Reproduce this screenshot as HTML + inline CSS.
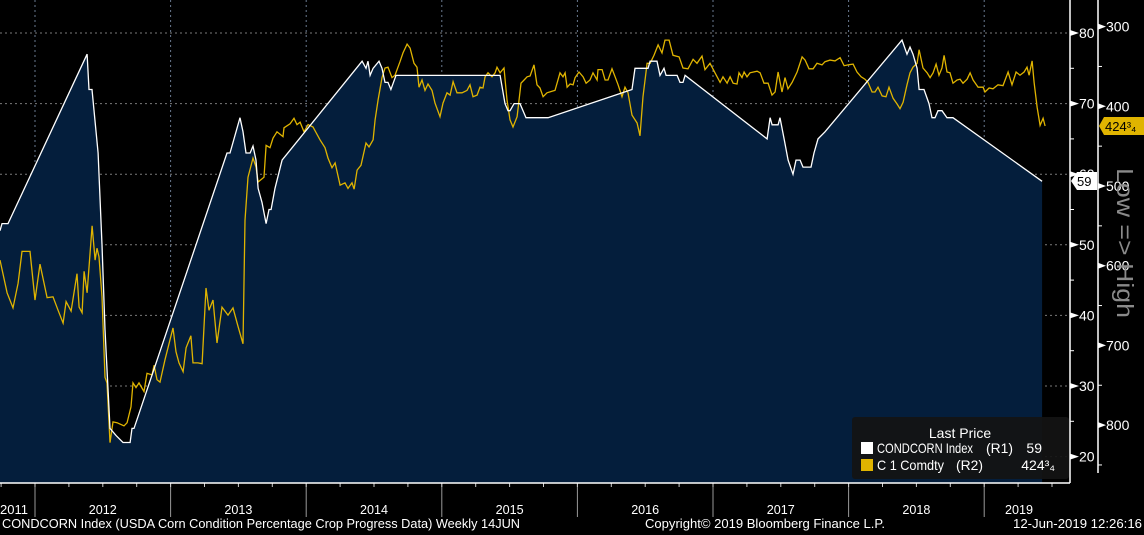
<!DOCTYPE html>
<html><head><meta charset="utf-8"><style>
html,body{margin:0;padding:0;background:#000;width:1144px;height:535px;overflow:hidden}
svg{display:block;font-family:"Liberation Sans Narrow","Liberation Sans",sans-serif}
</style></head><body>
<svg id="chart" width="1144" height="535" viewBox="0 0 1144 535">
<rect x="0" y="0" width="1144" height="535" fill="#000"/>
<g id="grid"></g>
<path id="area" fill="#041e3c"/>
<polyline id="cornLine" fill="none" stroke="#e0b400" stroke-width="1.3"/>
<polyline id="condLine" fill="none" stroke="#fff" stroke-width="1.3"/>
<g id="axes"></g>
<g>
<rect x="852" y="417" width="217" height="62" rx="3" fill="#141414" fill-opacity="0.92"/>
<text x="960" y="438" fill="#fff" font-size="14" text-anchor="middle">Last Price</text>
<rect x="861" y="442" width="12" height="12" fill="#fff"/>
<text x="877" y="453" fill="#fff" font-size="14" textLength="96" lengthAdjust="spacingAndGlyphs">CONDCORN Index</text>
<text x="986" y="453" fill="#fff" font-size="14" textLength="27" lengthAdjust="spacingAndGlyphs">(R1)</text>
<text x="1042" y="453" fill="#fff" font-size="14" text-anchor="end">59</text>
<rect x="861" y="459" width="12" height="12" fill="#e0b400"/>
<text x="877" y="470" fill="#fff" font-size="14" textLength="67" lengthAdjust="spacingAndGlyphs">C 1 Comdty</text>
<text x="956" y="470" fill="#fff" font-size="14" textLength="27" lengthAdjust="spacingAndGlyphs">(R2)</text>
<text x="1055" y="470" fill="#fff" font-size="14" text-anchor="end">424³₄</text>
</g>
<g>
<path d="M1071 181 L1077 172 L1097 172 L1097 190 L1077 190 Z" fill="#fff"/>
<text x="1077" y="186" fill="#000" font-size="13">59</text>
<path d="M1099 126 L1104 117 L1144 117 L1144 135 L1104 135 Z" fill="#e0b400"/>
<text x="1105" y="131" fill="#000" font-size="13">424³₄</text>
</g>
<text transform="translate(1117,168) rotate(90)" fill="#8a8a8a" font-size="23" textLength="150" lengthAdjust="spacingAndGlyphs">Low =&gt; High</text>
<text x="2" y="528" fill="#fff" font-size="13" textLength="518" lengthAdjust="spacingAndGlyphs">CONDCORN Index (USDA Corn Condition Percentage Crop Progress Data)  Weekly 14JUN</text>
<text x="645" y="528" fill="#fff" font-size="13" textLength="240" lengthAdjust="spacingAndGlyphs">Copyright© 2019 Bloomberg Finance L.P.</text>
<text x="1013" y="528" fill="#fff" font-size="13" textLength="129" lengthAdjust="spacingAndGlyphs">12-Jun-2019 12:26:16</text>
</svg>
<script>
const condDates=[2011.742,2011.757,2011.801,2012.384,2012.398,2012.420,2012.465,2012.494,2012.516,2012.553,2012.597,2012.649,2012.701,2012.715,2012.730,2013.416,2013.438,2013.512,2013.534,2013.556,2013.586,2013.608,2013.630,2013.645,2013.674,2013.704,2013.726,2013.741,2013.770,2013.822,2014.412,2014.441,2014.456,2014.471,2014.493,2014.537,2014.559,2014.581,2014.603,2014.625,2014.662,2015.430,2015.466,2015.488,2015.503,2015.533,2015.577,2015.621,2015.784,2016.403,2016.425,2016.521,2016.536,2016.587,2016.609,2016.639,2016.654,2016.735,2016.757,2016.779,2016.794,2017.399,2017.421,2017.436,2017.480,2017.494,2017.524,2017.554,2017.590,2017.612,2017.642,2017.664,2017.723,2017.745,2017.774,2017.826,2018.394,2018.431,2018.453,2018.475,2018.505,2018.520,2018.556,2018.593,2018.615,2018.637,2018.659,2018.689,2018.726,2018.770,2019.427];
const condValues=[52,53,53,77,72,72,63,50,38,24,23,22,22,24,24,63,63,68,66,63,63,64,62,58,56,53,55,55,58,62,76,75,76,74,75,76,75,73,73,72,74,74,70,69,69,70,70,68,68,72,75,75,76,76,74,75,74,74,73,73,74,65,68,67,67,68,65,62,60,62,62,61,61,63,65,66,79,77,78,77,75,72,72,70,68,68,69,69,68,68,59];
const cornDates=[2011.742,2011.794,2011.838,2011.875,2011.904,2011.963,2012.000,2012.037,2012.089,2012.133,2012.170,2012.207,2012.229,2012.266,2012.310,2012.325,2012.347,2012.362,2012.384,2012.421,2012.443,2012.457,2012.472,2012.494,2012.516,2012.531,2012.553,2012.575,2012.605,2012.656,2012.679,2012.708,2012.723,2012.745,2012.767,2012.804,2012.826,2012.863,2012.878,2012.900,2012.922,2012.959,2013.018,2013.040,2013.062,2013.092,2013.114,2013.150,2013.165,2013.202,2013.232,2013.261,2013.283,2013.313,2013.342,2013.379,2013.423,2013.460,2013.497,2013.534,2013.549,2013.571,2013.608,2013.630,2013.645,2013.689,2013.704,2013.733,2013.755,2013.785,2013.829,2013.836,2013.881,2013.910,2013.932,2013.955,2013.984,2014.014,2014.050,2014.102,2014.139,2014.161,2014.190,2014.213,2014.250,2014.286,2014.308,2014.338,2014.353,2014.375,2014.404,2014.441,2014.463,2014.493,2014.508,2014.530,2014.559,2014.581,2014.603,2014.633,2014.655,2014.692,2014.714,2014.744,2014.766,2014.795,2014.817,2014.832,2014.854,2014.876,2014.898,2014.928,2014.950,2014.987,2015.009,2015.038,2015.061,2015.083,2015.112,2015.149,2015.186,2015.208,2015.230,2015.260,2015.282,2015.304,2015.319,2015.341,2015.370,2015.393,2015.407,2015.430,2015.459,2015.481,2015.503,2015.525,2015.555,2015.584,2015.607,2015.629,2015.651,2015.680,2015.702,2015.724,2015.747,2015.776,2015.813,2015.835,2015.872,2015.894,2015.909,2015.924,2015.946,2015.968,2015.983,2016.012,2016.042,2016.064,2016.093,2016.115,2016.145,2016.152,2016.182,2016.204,2016.226,2016.255,2016.278,2016.300,2016.329,2016.351,2016.373,2016.403,2016.440,2016.462,2016.484,2016.514,2016.536,2016.565,2016.595,2016.624,2016.646,2016.676,2016.705,2016.750,2016.779,2016.816,2016.853,2016.882,2016.919,2016.941,2016.978,2017.015,2017.052,2017.074,2017.104,2017.126,2017.148,2017.177,2017.192,2017.214,2017.229,2017.251,2017.273,2017.325,2017.347,2017.376,2017.406,2017.435,2017.458,2017.480,2017.509,2017.531,2017.553,2017.583,2017.620,2017.657,2017.679,2017.708,2017.738,2017.767,2017.804,2017.826,2017.863,2017.900,2017.937,2017.967,2017.996,2018.033,2018.062,2018.092,2018.121,2018.143,2018.173,2018.195,2018.217,2018.247,2018.276,2018.298,2018.328,2018.357,2018.379,2018.402,2018.431,2018.453,2018.475,2018.505,2018.520,2018.549,2018.579,2018.601,2018.623,2018.645,2018.667,2018.689,2018.704,2018.726,2018.748,2018.770,2018.800,2018.822,2018.844,2018.874,2018.896,2018.918,2018.955,2018.992,2019.006,2019.036,2019.065,2019.102,2019.139,2019.176,2019.205,2019.235,2019.264,2019.294,2019.316,2019.331,2019.353,2019.368,2019.390,2019.412,2019.434,2019.449];
const cornValues=[593,634,653,622,582,582,643,598,640,639,656,672,645,657,610,652,659,607,634,550,593,578,589,639,740,747,822,796,797,801,797,777,747,753,747,758,735,737,725,743,746,718,678,708,722,733,703,688,722,722,723,628,656,643,697,652,662,653,676,698,543,489,465,476,495,489,449,452,440,432,438,427,422,415,423,420,432,423,426,442,452,465,477,471,499,496,503,496,504,480,474,446,451,442,417,392,364,352,351,364,361,344,333,322,327,346,351,376,367,380,372,380,396,413,396,383,386,369,383,383,380,373,388,386,376,377,363,358,363,358,351,358,352,392,417,426,413,371,367,363,362,348,373,377,388,383,381,380,358,363,358,376,372,373,364,357,363,371,367,358,367,354,354,367,367,353,363,373,388,376,383,411,421,437,388,346,346,336,323,333,317,317,336,338,352,353,341,346,337,354,346,358,370,363,371,363,371,372,358,364,357,363,358,356,358,371,371,386,382,357,382,364,378,370,357,338,342,353,353,346,348,344,342,343,339,349,348,347,357,363,366,370,382,382,376,387,388,376,390,397,403,395,373,358,351,346,329,352,358,364,358,347,361,352,336,357,358,371,367,366,371,366,358,367,376,376,382,377,378,373,374,357,373,357,361,357,351,361,343,370,401,424,415,424.75];
const yearLabels=["2011","2012","2013","2014","2015","2016","2017","2018","2019"];
const r1Ticks=[20,30,40,50,60,70,80];
const r2Ticks=[300,400,500,600,700,800];

const NS="http://www.w3.org/2000/svg";
const X0=35, PXY=135.6, PLOT_R=1070, PLOT_B=483;
function xs(t){return X0+(t-2012)*PXY;}
function y1(v){return 33+(80-v)*7.06;}
function y2(p){return 26.6+(p-300)*0.797;}
function mk(tag,attrs,parent){const e=document.createElementNS(NS,tag);for(const k in attrs)e.setAttribute(k,attrs[k]);parent.appendChild(e);return e;}

const grid=document.getElementById('grid'), axes=document.getElementById('axes');
r1Ticks.forEach(v=>{
  const l=mk('line',{x1:0,x2:PLOT_R,y1:y1(v),y2:y1(v),stroke:'#7a7a7a','stroke-width':1,'stroke-dasharray':'2,3'},grid);
  
  
});
for(let yr=2012;yr<=2019;yr++){
  const x=xs(yr);
  const g=mk('line',{x1:x,x2:x,y1:0,y2:PLOT_B,stroke:'#6a7a90','stroke-width':1,'stroke-dasharray':'2,3'},grid);
  
  
  const s=mk('line',{x1:x,x2:x,y1:PLOT_B,y2:517,stroke:'#999','stroke-width':1},axes);
  
  
}
for(let q=2011.75;q<2019.6;q+=0.25){
  const x=xs(q); if(x<0||x>PLOT_R)continue;
  const t=mk('line',{x1:x,x2:x,y1:PLOT_B,y2:PLOT_B+4,stroke:'#ccc','stroke-width':1},axes);
  
  
}
yearLabels.forEach((lab,i)=>{
  const yr=2011+i;
  let cx=(xs(yr)+xs(yr+1))/2;
  if(yr===2011)cx=14; if(yr===2019)cx=1019;
  const t=mk('text',{x:cx,y:514,fill:'#fff','font-size':13,'text-anchor':'middle',textLength:28,lengthAdjust:'spacingAndGlyphs'},axes);
  t.textContent=lab;
  
  
});
const condPts=condDates.map((d,i)=>xs(d).toFixed(1)+','+y1(condValues[i]).toFixed(1));
document.getElementById('condLine').setAttribute('points',condPts.join(' '));
const lastX=xs(condDates[condDates.length-1]).toFixed(1);
document.getElementById('area').setAttribute('d','M'+xs(condDates[0]).toFixed(1)+','+PLOT_B+' L'+condPts.join(' L')+' L'+lastX+','+PLOT_B+' Z');
document.getElementById('cornLine').setAttribute('points',cornDates.map((d,i)=>xs(d).toFixed(1)+','+y2(cornValues[i]).toFixed(1)).join(' '));
let a=mk('line',{x1:0,x2:PLOT_R,y1:PLOT_B,y2:PLOT_B,stroke:'#fff','stroke-width':1.5},axes);


a=mk('line',{x1:PLOT_R,x2:PLOT_R,y1:0,y2:PLOT_B,stroke:'#fff','stroke-width':1.5},axes);


a=mk('line',{x1:1098,x2:1098,y1:0,y2:473,stroke:'#fff','stroke-width':1.5},axes);


r1Ticks.forEach(v=>{
  const y=y1(v);
  const p=mk('path',{d:`M${PLOT_R} ${y-3} L${PLOT_R+9} ${y} L${PLOT_R} ${y+3} Z`,fill:'#fff'},axes);
  
  
  const t=mk('text',{x:PLOT_R+9,y:y+5,fill:'#fff','font-size':14},axes);
  t.textContent=v;
  
  
  if(v<80){const m=mk('line',{x1:PLOT_R,x2:PLOT_R+4,y1:y1(v+5),y2:y1(v+5),stroke:'#fff'},axes);
  
  }
});
r2Ticks.forEach(v=>{
  const y=y2(v);
  const p=mk('path',{d:`M1098 ${y-3} L1106 ${y} L1098 ${y+3} Z`,fill:'#fff'},axes);
  
  
  const t=mk('text',{x:1106,y:y+5,fill:'#fff','font-size':14},axes);
  t.textContent=v;
  
  
  const m=mk('line',{x1:1098,x2:1102,y1:y2(v+50),y2:y2(v+50),stroke:'#fff'},axes);
  
  
});
</script>
</body></html>
